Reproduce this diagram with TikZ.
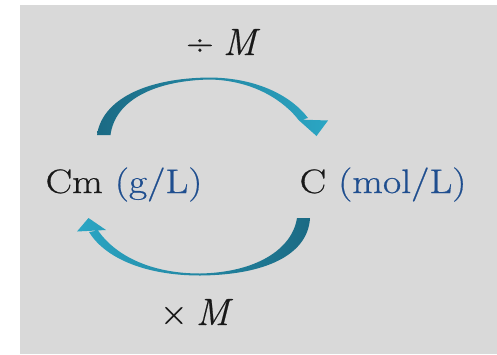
\documentclass[tikz,border=0pt]{standalone}
\usepackage{fontspec}
\newfontfamily\lblfont[FakeStretch=1.17,FakeBold=0.6]{Latin Modern Roman}
\newfontfamily\opfont[FakeBold=0.5]{Latin Modern Roman}
\definecolor{bggray}{HTML}{D9D9D9}
\definecolor{unitblue}{HTML}{1F4E8F}
\definecolor{tealdark}{HTML}{1B6A84}
\definecolor{teallight}{HTML}{2BA6C4}
\begin{document}
\begin{tikzpicture}[x=1pt,y=-1pt,
  lbl/.style={inner sep=0pt,anchor=base,font=\lblfont\fontsize{34}{40}\selectfont,text=black!90},
  oplbl/.style={inner sep=0pt,anchor=base west,font=\opfont\fontsize{38}{44}\selectfont,text=black!90}]
\useasboundingbox (0,0) rectangle (497,354);
\fill[white] (0,0) rectangle (497,354);
\fill[bggray] (20,5) rectangle (497,354);
% labels
\node[lbl] (cm) at (124,193) {Cm \textcolor{unitblue}{(g/L)}};
\node[lbl] (c) at (383,193) {C \textcolor{unitblue}{(mol/L)}};
\node[oplbl] (div) at (186,55) {÷\hspace{0.25em}\textit{M}};
\node[oplbl] (mul) at (160,325) {×\hspace{0.22em}\textit{M}};
% top arrow (Cm -> C)
\shade[left color=tealdark,right color=teallight]
  (97,135) .. controls (102,100) and (145,78) .. (210,77.5)
  .. controls (260,78) and (293,98) .. (308,118)
  -- (299,120.5)
  .. controls (285,102) and (255,80.5) .. (210,79.5)
  .. controls (155,80.5) and (115,100) .. (110.5,135) -- cycle
  (298,119.5) -- (328,120.5) -- (316.5,136) -- cycle;
% bottom arrow (C -> Cm)
\shade[left color=teallight,right color=tealdark]
  (310,218) .. controls (308,255) and (265,275) .. (200,275.5)
  .. controls (145,275.5) and (105,258) .. (89,232)
  -- (98,230.5)
  .. controls (115,255) and (150,273.5) .. (200,273.5)
  .. controls (255,272.5) and (292,250) .. (297,218) -- cycle
  (77,231.5) -- (88.5,218) -- (106,230) -- cycle;
\end{tikzpicture}
\end{document}
